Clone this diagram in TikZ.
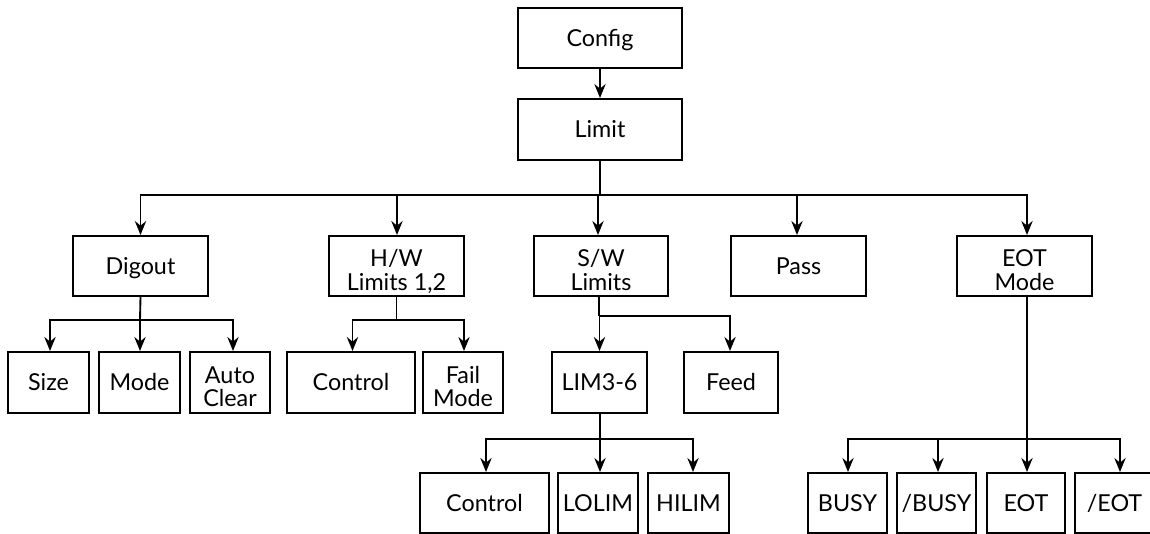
\documentclass[tikz,border=0pt]{standalone}
\usepackage{fontspec}
\setmainfont{Lato}
\usetikzlibrary{arrows.meta}
\begin{document}
\begin{tikzpicture}[x=0.75pt,y=-0.75pt,
  box/.style={draw, line width=1.5pt, rectangle, inner sep=0pt, align=center,
    font=\fontsize{17.5}{17.5}\selectfont, text height=12.5pt, text depth=0pt},
  two/.style={text height=36.5pt},
  wire/.style={line width=1.4pt},
  arr/.style={wire, -{Stealth[length=10.5pt,width=8.5pt,inset=3.5pt]}}]
\useasboundingbox (0,0) rectangle (1150,534);
% top
\node[box, minimum width=164*0.75pt, minimum height=60*0.75pt] (config) at (600,38) {Config};
\node[box, minimum width=164*0.75pt, minimum height=61*0.75pt] (limit) at (600,129.5) {Limit};
% second row
\node[box, minimum width=135*0.75pt, minimum height=60*0.75pt] (digout) at (140.5,266) {Digout};
\node[box, two, minimum width=135*0.75pt, minimum height=60*0.75pt] (hw) at (396.5,266) {H/W\\Limits 1,2};
\node[box, two, minimum width=134*0.75pt, minimum height=60*0.75pt] (sw) at (601,266) {S/W\\Limits};
\node[box, minimum width=135*0.75pt, minimum height=60*0.75pt] (pass) at (798.5,266) {Pass};
\node[box, two, minimum width=135*0.75pt, minimum height=60*0.75pt] (eotm) at (1024.5,266) {EOT\\Mode};
% third row
\node[box, minimum width=81*0.75pt, minimum height=61*0.75pt] (size) at (48.5,382.5) {Size};
\node[box, minimum width=81*0.75pt, minimum height=61*0.75pt] (mode) at (139.5,382.5) {Mode};
\node[box, two, minimum width=80*0.75pt, minimum height=61*0.75pt] (auto) at (230,382.5) {Auto\\Clear};
\node[box, minimum width=128*0.75pt, minimum height=61*0.75pt] (ctla) at (351,382.5) {Control};
\node[box, two, minimum width=80*0.75pt, minimum height=61*0.75pt] (fail) at (463,382.5) {Fail\\Mode};
\node[box, minimum width=95*0.75pt, minimum height=61*0.75pt] (lim) at (599.5,382.5) {LIM3-6};
\node[box, minimum width=94*0.75pt, minimum height=61*0.75pt] (feed) at (731,382.5) {Feed};
% fourth row
\node[box, minimum width=129*0.75pt, minimum height=60*0.75pt] (ctlb) at (484.5,503) {Control};
\node[box, minimum width=80*0.75pt, minimum height=60*0.75pt] (lolim) at (598,503) {LOLIM};
\node[box, minimum width=81*0.75pt, minimum height=60*0.75pt] (hilim) at (688.5,503) {HILIM};
\node[box, minimum width=79*0.75pt, minimum height=60*0.75pt] (busy) at (847.5,503) {BUSY};
\node[box, minimum width=79*0.75pt, minimum height=60*0.75pt] (nbusy) at (936.5,503) {/BUSY};
\node[box, minimum width=78*0.75pt, minimum height=60*0.75pt] (eot) at (1026,503) {EOT};
\node[box, minimum width=79*0.75pt, minimum height=60*0.75pt] (neot) at (1114.5,503) {/EOT};
% connectors
\draw[arr] (config) -- (limit);
\coordinate (b0) at (600,195);
\draw[wire] (limit.south) -- (b0);
\draw[arr] (b0) -| (digout.north);
\draw[arr] (b0) -| ([xshift=0.375pt]hw.north);
\draw[arr] (b0) -| ([xshift=-2.25pt]sw.north);
\draw[arr] (b0) -| ([xshift=-1.125pt]pass.north);
\draw[arr] (b0) -| ([xshift=1.875pt]eotm.north);
% digout subtree
\coordinate (b1) at (140,320);
\draw[wire] (digout.south) -- (b1);
\draw[arr] (b1) -| ([xshift=1.125pt]size.north);
\draw[arr] (b1) -| ([xshift=0.375pt]mode.north);
\draw[arr] (b1) -| ([xshift=2.25pt]auto.north);
% hw subtree
\coordinate (b2) at (396.5,320);
\draw[wire] (hw.south) -- (b2);
\draw[arr] (b2) -| ([xshift=1.125pt]ctla.north);
\draw[arr] (b2) -| ([xshift=0.75pt]fail.north);
% sw subtree
\coordinate (b3) at (599,316);
\draw[wire] ([xshift=-1.5pt]sw.south) -- (b3);
\draw[arr] (b3) -| (lim.north);
\draw[arr] (b3) -| ([xshift=-0.75pt]feed.north);
% lim subtree
\coordinate (b4) at (600,439);
\draw[wire] ([xshift=0.375pt]lim.south) -- (b4);
\draw[arr] (b4) -| ([xshift=1.125pt]ctlb.north);
\draw[arr] (b4) -| ([xshift=1.5pt]lolim.north);
\draw[arr] (b4) -| ([xshift=3.375pt]hilim.north);
% eot subtree
\coordinate (b5) at (1027,439);
\draw[wire] ([xshift=1.875pt]eotm.south) -- (b5);
\draw[arr] (b5) -| ([xshift=0.375pt]busy.north);
\draw[arr] (b5) -| ([xshift=1.125pt]nbusy.north);
\draw[arr] (b5) -| ([xshift=0.75pt]eot.north);
\draw[arr] (b5) -| ([xshift=4.125pt]neot.north);
\end{tikzpicture}
\end{document}
